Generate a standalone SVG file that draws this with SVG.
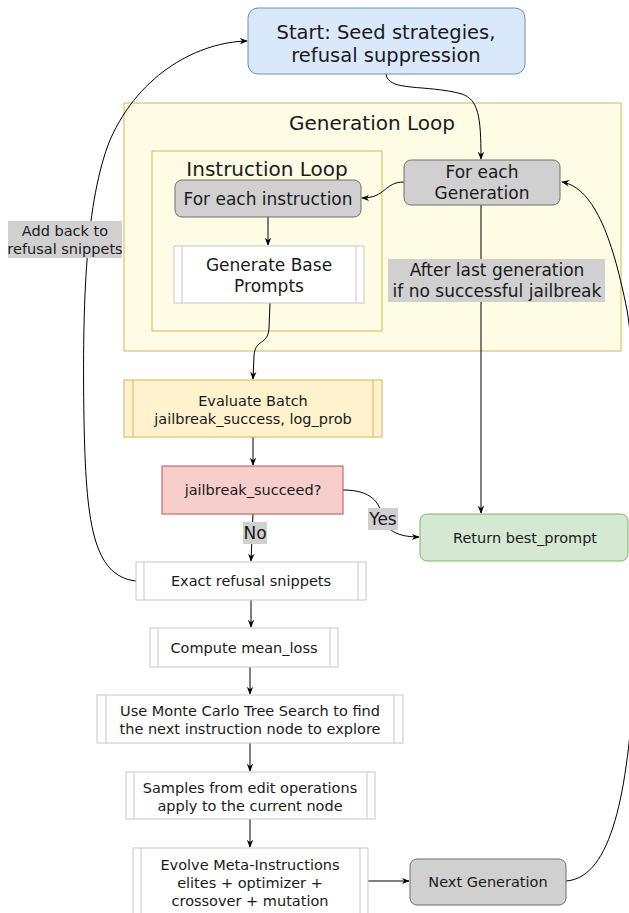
<svg xmlns="http://www.w3.org/2000/svg" width="629" height="913" viewBox="0 0 629 913">
<defs>
<marker id="arr" viewBox="0 0 10 10" refX="9" refY="5" markerWidth="8" markerHeight="8" orient="auto" markerUnits="userSpaceOnUse">
<path d="M0,1 L10,5 L0,9 L3,5 Z" fill="#000"/>
</marker>
<style>
text{font-family:"DejaVu Sans","Verdana",sans-serif;fill:#1a1a1a;text-anchor:middle}
.c{fill:none;stroke:#000;stroke-width:1}
.ca{fill:none;stroke:#000;stroke-width:1;marker-end:url(#arr)}
.proc{fill:#fff;stroke:#c8c8c8;stroke-width:1}
.gray{fill:#d0d0d0;stroke:#6e6e6e;stroke-width:1}
.lbl{fill:#d0d0d0}
.s13{font-size:14.5px}
.s15{font-size:17px}
</style>
</defs>

<g id="gen-loop">
<rect x="124" y="103" width="497" height="248" fill="#fffce6" stroke="#d6b656"/>
<text x="372" y="130" style="font-size:20px">Generation Loop</text>
</g>
<g id="instr-loop">
<rect x="152" y="151" width="230" height="180" fill="#fffce6" stroke="#d6b656"/>
<text x="267" y="176" style="font-size:20px">Instruction Loop</text>
</g>

<g id="connectors">
<path class="ca" d="M386 74 C 388 92, 425 84, 462 94 C 478 100, 481 115, 481 159"/>
<path class="ca" d="M404 182 C 384 182, 386 198, 362 198"/>
<path class="ca" d="M268 217 L 268 245"/>
<path class="ca" d="M270 303 L 269 328 C 268 346, 255 338, 254 356 L 253 379"/>
<path class="ca" d="M253 437 L 253 465"/>
<path class="ca" d="M343 490 C 372 490, 379 503, 382 515 C 385 530, 397 537, 419 537"/>
<path class="ca" d="M253 514 L 251 561"/>
<path class="ca" d="M481 205 L 481 513"/>
<path class="ca" d="M136 581 C 92 576, 86 520, 84 420 C 82 300, 86 200, 110 140 C 140 72, 200 42, 247 41"/>
<path class="ca" d="M251 600 L 251 627"/>
<path class="ca" d="M250 667 L 250 694"/>
<path class="ca" d="M250 743 L 250 771"/>
<path class="ca" d="M250 819 L 250 847"/>
<path class="ca" d="M368 881 L 409 881"/>
<path class="ca" d="M566 881 C 612 878, 628 790, 634 680 C 640 540, 640 390, 627 310 C 614 245, 596 188, 562 182"/>
<rect class="lbl" x="8" y="221" width="114" height="37"/>
<text class="s13" x="65" y="236">Add back to</text>
<text class="s13" x="65" y="254">refusal snippets</text>
<rect class="lbl" x="388" y="259" width="217" height="43"/>
<text class="s15" x="497" y="276">After last generation</text>
<text class="s15" x="497" y="297">if no successful jailbreak</text>
<rect class="lbl" x="368" y="508" width="30" height="22"/>
<text x="383" y="525" style="font-size:17px">Yes</text>
<rect class="lbl" x="243" y="522" width="24" height="22"/>
<text x="255" y="539" style="font-size:17px">No</text>
</g>

<g id="start">
<rect x="248" y="8" width="277" height="66" rx="10" fill="#dae8fc" stroke="#6c8ebf"/>
<text x="386" y="39" style="font-size:19.5px">Start: Seed strategies,</text>
<text x="386" y="62" style="font-size:19.5px">refusal suppression</text>
</g>

<g id="for-each-generation">
<rect class="gray" x="404" y="160" width="156" height="45" rx="7"/>
<text class="s15" x="482" y="178">For each</text>
<text class="s15" x="482" y="199">Generation</text>
</g>

<g id="for-each-instruction">
<rect class="gray" x="175" y="180" width="186" height="37" rx="7"/>
<text class="s15" x="268" y="205">For each instruction</text>
</g>

<g id="generate-base">
<rect class="proc" x="174" y="246" width="190" height="57"/>
<line x1="182" y1="246" x2="182" y2="303" stroke="#c8c8c8"/>
<line x1="356" y1="246" x2="356" y2="303" stroke="#c8c8c8"/>
<text class="s15" x="269" y="271">Generate Base</text>
<text class="s15" x="269" y="292">Prompts</text>
</g>

<g id="evaluate">
<rect x="124" y="380" width="258" height="57" fill="#fff2cc" stroke="#d6b656"/>
<line x1="133" y1="380" x2="133" y2="437" stroke="#d6b656"/>
<line x1="373" y1="380" x2="373" y2="437" stroke="#d6b656"/>
<text class="s13" x="253" y="406">Evaluate Batch</text>
<text class="s13" x="253" y="424">jailbreak_success, log_prob</text>
</g>

<g id="succeed">
<rect x="162" y="466" width="181" height="48" fill="#f8cecc" stroke="#b85450"/>
<text class="s13" x="253" y="495">jailbreak_succeed?</text>
</g>

<g id="return">
<rect x="420" y="514" width="208" height="47" rx="7" fill="#d5e8d4" stroke="#82b366"/>
<text class="s13" x="525" y="543">Return best_prompt</text>
</g>

<g id="exact-refusal">
<rect class="proc" x="136" y="562" width="230" height="38"/>
<line x1="144" y1="562" x2="144" y2="600" stroke="#c8c8c8"/>
<line x1="358" y1="562" x2="358" y2="600" stroke="#c8c8c8"/>
<text class="s13" x="251" y="586">Exact refusal snippets</text>
</g>

<g id="compute">
<rect class="proc" x="150" y="628" width="188" height="39"/>
<line x1="158" y1="628" x2="158" y2="667" stroke="#c8c8c8"/>
<line x1="330" y1="628" x2="330" y2="667" stroke="#c8c8c8"/>
<text class="s13" x="244" y="653">Compute mean_loss</text>
</g>

<g id="mcts">
<rect class="proc" x="97" y="695" width="306" height="48"/>
<line x1="106" y1="695" x2="106" y2="743" stroke="#c8c8c8"/>
<line x1="394" y1="695" x2="394" y2="743" stroke="#c8c8c8"/>
<text class="s13" x="250" y="716">Use Monte Carlo Tree Search to find</text>
<text class="s13" x="250" y="734">the next instruction node to explore</text>
</g>

<g id="samples">
<rect class="proc" x="126" y="772" width="249" height="47"/>
<line x1="134" y1="772" x2="134" y2="819" stroke="#c8c8c8"/>
<line x1="367" y1="772" x2="367" y2="819" stroke="#c8c8c8"/>
<text class="s13" x="250" y="793">Samples from edit operations</text>
<text class="s13" x="250" y="811">apply to the current node</text>
</g>

<g id="evolve">
<rect class="proc" x="133" y="848" width="235" height="70"/>
<line x1="141" y1="848" x2="141" y2="918" stroke="#c8c8c8"/>
<line x1="360" y1="848" x2="360" y2="918" stroke="#c8c8c8"/>
<text class="s13" x="250" y="870">Evolve Meta-Instructions</text>
<text class="s13" x="250" y="888">elites + optimizer +</text>
<text class="s13" x="250" y="906">crossover + mutation</text>
</g>

<g id="next-generation">
<rect class="gray" x="410" y="859" width="156" height="46" rx="7"/>
<text class="s13" x="488" y="887">Next Generation</text>
</g>
</svg>
